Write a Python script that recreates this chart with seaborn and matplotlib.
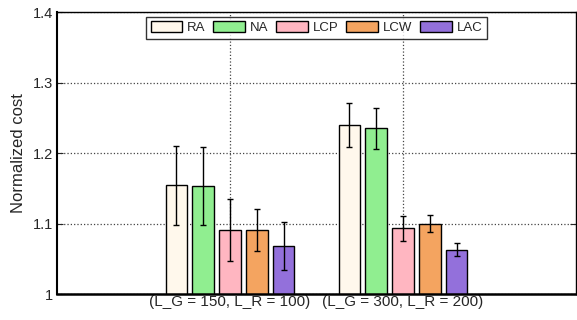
import pandas as pd
import matplotlib
matplotlib.use("Agg")
import matplotlib.pyplot as plt
import seaborn as sns

groups = ["(L_G = 150, L_R = 100)", "(L_G = 300, L_R = 200)"]
methods = ["RA", "NA", "LCP", "LCW", "LAC"]
cost_g1 = [1.154, 1.153, 1.091, 1.091, 1.068]
cost_g2 = [1.240, 1.235, 1.093, 1.100, 1.063]
err_g1 = [0.056, 0.055, 0.044, 0.030, 0.034]
err_g2 = [0.031, 0.029, 0.018, 0.012, 0.009]
colors = ["#FFF8EC", "#90EE90", "#FFB6C1", "#F4A460", "#9370DB"]

df = pd.DataFrame({
    "group": [groups[0]] * 5 + [groups[1]] * 5,
    "method": methods * 2,
    "cost": cost_g1 + cost_g2,
    "err": err_g1 + err_g2,
})

sns.set_style("white")
plt.rcParams["font.family"] = ["Liberation Sans", "DejaVu Sans"]

fig = plt.figure(figsize=(5.77, 3.2), dpi=100)
ax = fig.add_axes([0.099, 0.081, 0.899, 0.8815])

sns.barplot(data=df, x="group", y="cost", hue="method", order=groups,
            hue_order=methods, palette=colors, saturation=1, width=0.776,
            gap=0.2, edgecolor="black", linewidth=1, errorbar=None, ax=ax)

# error bars at the bar centres
for cont, m in zip(ax.containers, methods):
    sub = df[df["method"] == m].set_index("group").loc[groups]
    xs = [p.get_x() + p.get_width() / 2 for p in cont.patches]
    ax.errorbar(xs, sub["cost"], yerr=sub["err"], fmt="none", ecolor="black",
                elinewidth=1, capsize=2, capthick=1, zorder=5)

ax.set_xlim(-1, 2)
ax.set_ylim(1, 1.4)
ax.set_yticks([1, 1.1, 1.2, 1.3, 1.4])
ax.set_yticklabels(["1", "1.1", "1.2", "1.3", "1.4"], fontsize=10.5)
ax.tick_params(axis="x", labelsize=11, length=0, pad=1)
ax.tick_params(axis="y", direction="in", right=True, left=True, length=4, pad=3)
ax.grid(True, linestyle=":", color="#444444", linewidth=0.9)
ax.set_axisbelow(True)
ax.set_xlabel("")
ax.set_ylabel("Normalized cost", fontsize=12, labelpad=5)
for s in ax.spines.values():
    s.set_color("black")
    s.set_linewidth(1)
ax.spines["bottom"].set_linewidth(1.8)
ax.spines["left"].set_linewidth(1.5)

leg = ax.legend(loc="upper center", ncol=5, frameon=True, fontsize=9.5,
                handlelength=2.4, handleheight=0.85, handletextpad=0.38,
                columnspacing=0.58, borderpad=0.35, borderaxespad=0,
                fancybox=False, bbox_to_anchor=(0.5, 0.983))
leg.get_frame().set_edgecolor("black")
leg.get_frame().set_linewidth(1)

fig.savefig("out.png", dpi=100)
